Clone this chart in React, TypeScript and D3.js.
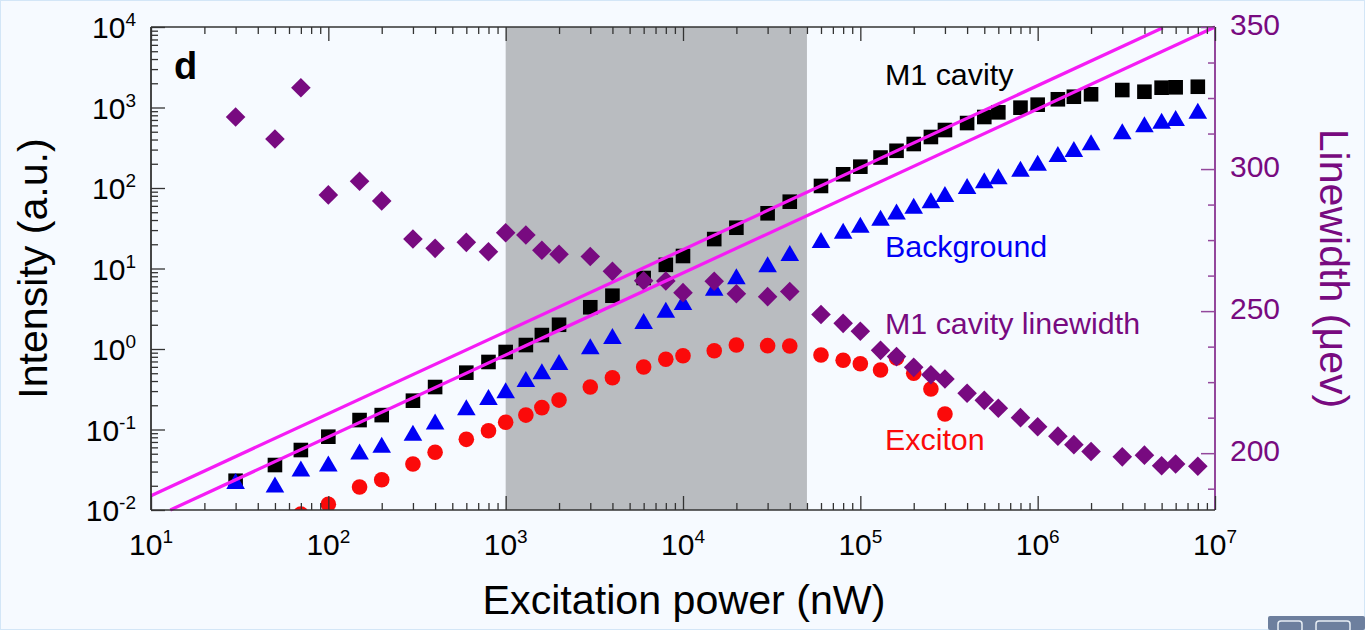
// App.tsx
// Log-log intensity vs excitation power, with linewidth on a second y axis
import { useEffect, useRef } from "react"
import * as d3 from "d3"

const power = [
  30, 50, 70, 100, 150, 200, 300, 400, 600, 800, 1000, 1300, 1600, 2000, 3000, 4000, 6000, 8000,
  10000, 15000, 20000, 30000, 40000, 60000, 80000, 1e5, 1.3e5, 1.6e5, 2e5, 2.5e5, 3e5, 4e5, 5e5,
  6e5, 8e5, 1e6, 1.3e6, 1.6e6, 2e6, 3e6, 4e6, 5e6, 6e6, 8e6,
]
const cavity = [
  0.0231, 0.0362, 0.0556, 0.0814, 0.131, 0.151, 0.228, 0.337, 0.508, 0.69, 0.918, 1.12, 1.49, 2.0,
  3.3, 4.59, 7.62, 11.1, 14.3, 23.2, 32.1, 48.5, 67.6, 106, 148, 184, 239, 290, 352, 430, 525, 641,
  762, 871, 995, 1084, 1265, 1361, 1459, 1648, 1570, 1762, 1782, 1811,
]
const background = [
  0.0229, 0.0207, 0.0328, 0.0378, 0.0533, 0.0647, 0.0912, 0.126, 0.189, 0.254, 0.307, 0.424, 0.528,
  0.69, 1.08, 1.45, 2.23, 3.08, 3.84, 5.78, 8.0, 11.3, 15.6, 22.6, 29.5, 35.0, 42.8, 51.1, 60.1,
  70.3, 84.1, 106, 125, 140, 174, 206, 264, 305, 370, 506, 618, 686, 741, 912,
]
// exciton starts at 70 nW and stops at 3e5
const excitonPower = power.slice(2, 31)
const exciton = [
  0.00891, 0.0118, 0.0193, 0.0238, 0.0372, 0.0521, 0.0755, 0.0966, 0.123, 0.151, 0.187, 0.232,
  0.337, 0.44, 0.597, 0.745, 0.826, 0.953, 1.12, 1.1, 1.09, 0.841, 0.724, 0.656, 0.548, 0.773,
  0.499, 0.318, 0.156,
]
const linewidth = [
  318.3, 310.6, 328.6, 290.9, 295.7, 288.8, 275.4, 272.1, 274.2, 270.9, 277.6, 276.8, 271.4, 270,
  269.2, 264, 260.7, 260.6, 256.5, 260.5, 256.1, 255.1, 256.9, 248.8, 245.7, 242.9, 236.2, 234,
  230.2, 227.6, 226.1, 221.1, 218.6, 215.8, 212.5, 209.3, 206, 203, 200.6, 198.7, 199.3, 195.6,
  196.2, 195.4,
]
// guide lines, slope about 1 on the log-log plot
const guideUpper: [number, number][] = [[10, 0.01506], [5.08e6, 9800]]
const guideLower: [number, number][] = [[12.85, 0.01], [1e7, 10000]]
const shadedBand = [1000, 50000]

const xExponents = [1, 2, 3, 4, 5, 6, 7]
const yExponents = [-2, -1, 0, 1, 2, 3, 4]
const rightTicks = [200, 250, 300, 350]
const rightMinorTicks = [187.5, 212.5, 225, 237.5, 262.5, 275, 287.5, 312.5, 325, 337.5]

const BLACK = "#000000"
const BLUE = "#0000f5"
const RED = "#fb0a0a"
const PURPLE = "#780a80"
const MAGENTA = "#f51cf5"
const AXIS = "#333333"
const AXIS_RIGHT = "#93479c"
const FONT = "'Liberation Sans', Arial, sans-serif"

const width = 1365
const height = 630
const margin = { top: 27, right: 150, bottom: 120, left: 151 }

const decadeMinors = (exps: number[]) =>
  exps.slice(0, -1).flatMap((e) => d3.range(2, 10).map((m) => m * 10 ** e))

export default function App() {
  const svgRef = useRef<SVGSVGElement>(null)

  useEffect(() => {
    if (!svgRef.current) return
    const svg = d3.select(svgRef.current)
    svg.selectAll("*").remove()

    const innerWidth = width - margin.left - margin.right
    const innerHeight = height - margin.top - margin.bottom

    const x = d3.scaleLog().domain([10, 1e7]).range([0, innerWidth])
    const y = d3.scaleLog().domain([0.01, 10000]).range([innerHeight, 0])
    const yRight = d3.scaleLinear().domain([180, 350]).range([innerHeight, 0])

    // page background and thin window border
    svg.append("rect").attr("width", width).attr("height", height).attr("fill", "#f6faff")
    svg.append("rect").attr("x", 0.5).attr("y", 0.5).attr("width", width - 1).attr("height", height - 1)
      .attr("fill", "none").attr("stroke", "#d3e6f7")

    const defs = svg.append("defs")
    defs.append("clipPath").attr("id", "plot-clip").append("rect")
      .attr("width", innerWidth).attr("height", innerHeight)

    const g = svg.append("g").attr("transform", `translate(${margin.left},${margin.top})`)

    // shaded excitation range
    g.append("rect")
      .attr("x", x(shadedBand[0]))
      .attr("width", x(shadedBand[1]) - x(shadedBand[0]))
      .attr("height", innerHeight)
      .attr("fill", "#b9bcc0")

    const marks = g.append("g").attr("clip-path", "url(#plot-clip)")

    // black squares
    marks.selectAll(".cavity").data(cavity).join("rect").attr("class", "cavity")
      .attr("x", (_, i) => x(power[i]) - 7.3)
      .attr("y", (d) => y(d) - 7.3)
      .attr("width", 14.6).attr("height", 14.6)
      .attr("fill", BLACK)

    // red circles
    marks.selectAll(".exciton").data(exciton).join("circle").attr("class", "exciton")
      .attr("cx", (_, i) => x(excitonPower[i]))
      .attr("cy", (d) => y(d))
      .attr("r", 7.8)
      .attr("fill", RED)

    // blue triangles
    const triangle = "M0,-8 L9.3,8 L-9.3,8 Z"
    marks.selectAll(".background").data(background).join("path").attr("class", "background")
      .attr("transform", (d, i) => `translate(${x(power[i])},${y(d)})`)
      .attr("d", triangle)
      .attr("fill", BLUE)

    // purple diamonds use the right axis
    const diamond = "M0,-9.8 L9.8,0 L0,9.8 L-9.8,0 Z"
    marks.selectAll(".linewidth").data(linewidth).join("path").attr("class", "linewidth")
      .attr("transform", (d, i) => `translate(${x(power[i])},${yRight(d)})`)
      .attr("d", diamond)
      .attr("fill", PURPLE)

    const guide = d3.line<[number, number]>().x((d) => x(d[0])).y((d) => y(d[1]))
    ;[guideUpper, guideLower].forEach((pts) => {
      g.append("path").attr("d", guide(pts)).attr("fill", "none")
        .attr("stroke", MAGENTA).attr("stroke-width", 3.2)
    })

    // frame lines
    const frame = (x1: number, y1: number, x2: number, y2: number, color: string, w: number) =>
      g.append("line").attr("x1", x1).attr("y1", y1).attr("x2", x2).attr("y2", y2)
        .attr("stroke", color).attr("stroke-width", w)
    frame(innerWidth, 0, innerWidth, innerHeight, AXIS_RIGHT, 2)
    frame(0, 0, innerWidth, 0, AXIS, 1.6)
    frame(0, innerHeight, innerWidth, innerHeight, AXIS, 1.6)
    frame(0, 0, 0, innerHeight, AXIS, 1.8)

    // axes: inward ticks, labels added by hand because of the superscripts
    const drawAxis = (axis: d3.Axis<any>, transform: string, color: string, lineWidth: number) => {
      const a = g.append("g").attr("transform", transform).call(axis)
      a.selectAll("text").remove()
      a.select(".domain").remove()
      a.selectAll("line").attr("stroke", color).attr("stroke-width", lineWidth)
    }
    const xMajor = xExponents.map((e) => 10 ** e)
    const yMajor = yExponents.map((e) => 10 ** e)
    const xMinor = decadeMinors(xExponents)
    const yMinor = decadeMinors(yExponents)
    const bottomY = `translate(0,${innerHeight})`
    const rightX = `translate(${innerWidth},0)`

    drawAxis(d3.axisRight(yRight).tickValues(rightTicks).tickSizeOuter(0).tickSizeInner(-14), rightX, AXIS_RIGHT, 1.5)
    drawAxis(d3.axisRight(yRight).tickValues(rightMinorTicks).tickSizeOuter(0).tickSizeInner(-7), rightX, AXIS_RIGHT, 1.5)
    drawAxis(d3.axisBottom(x).tickValues(xMajor).tickSizeOuter(0).tickSizeInner(-14), bottomY, AXIS, 1.3)
    drawAxis(d3.axisBottom(x).tickValues(xMinor).tickSizeOuter(0).tickSizeInner(-7), bottomY, AXIS, 1.3)
    drawAxis(d3.axisTop(x).tickValues(xMajor).tickSizeOuter(0).tickSizeInner(-14), "translate(0,0)", AXIS, 1.3)
    drawAxis(d3.axisTop(x).tickValues(xMinor).tickSizeOuter(0).tickSizeInner(-7), "translate(0,0)", AXIS, 1.3)
    drawAxis(d3.axisLeft(y).tickValues(yMajor).tickSizeOuter(0).tickSizeInner(-14), "translate(0,0)", AXIS, 1.3)
    drawAxis(d3.axisLeft(y).tickValues(yMinor).tickSizeOuter(0).tickSizeInner(-7), "translate(0,0)", AXIS, 1.3)

    // text
    const text = (px: number, py: number, s: string, size: number, color: string, anchor = "start") =>
      svg.append("text").attr("x", px).attr("y", py).attr("font-family", FONT)
        .attr("font-size", size).attr("fill", color).attr("text-anchor", anchor).text(s)

    const power10 = (right: number, py: number, e: number) => {
      const t = svg.append("text").attr("x", right).attr("y", py).attr("font-family", FONT)
        .attr("font-size", 30).attr("fill", "#000").attr("text-anchor", "end")
      t.append("tspan").text("10")
      t.append("tspan").attr("font-size", 19).attr("dy", -12).text(String(e))
    }
    xExponents.forEach((e) => power10(margin.left + x(10 ** e) + 22, 555, e))
    yExponents.forEach((e) => power10(136, margin.top + y(10 ** e) + 11, e))

    rightTicks.forEach((v) => text(1230, margin.top + yRight(v) + 8, String(v), 30, PURPLE))

    text(174, 79, "d", 38, "#000").attr("font-weight", "bold")
    text(885, 85, "M1 cavity", 30.4, "#000")
    text(885, 257, "Background", 30.4, BLUE)
    text(885, 334, "M1 cavity linewidth", 30.4, PURPLE)
    text(885, 450, "Exciton", 30.4, RED)

    text(684, 614, "Excitation power (nW)", 41.2, "#000", "middle")
    text(0, 0, "Intensity (a.u.)", 41.1, "#000", "middle")
      .attr("transform", "translate(47,268.5) rotate(-90)")
    text(0, 0, "Linewidth (μev)", 41.1, PURPLE, "middle")
      .attr("transform", "translate(1320,268.5) rotate(90)")

    // bit of viewer toolbar caught in the bottom corner
    svg.append("rect").attr("x", 1268).attr("y", 616).attr("width", 97).attr("height", 14).attr("rx", 2).attr("fill", "#6d7f9e")
    svg.append("rect").attr("x", 1278).attr("y", 621).attr("width", 24).attr("height", 11).attr("rx", 3).attr("fill", "none").attr("stroke", "#e8eef5").attr("stroke-width", 1.5)
    svg.append("rect").attr("x", 1316).attr("y", 621).attr("width", 34).attr("height", 11).attr("rx", 3).attr("fill", "none").attr("stroke", "#e8eef5").attr("stroke-width", 1.5)
  }, [])

  return (
    <svg
      ref={svgRef}
      width={width}
      height={height}
      style={{ position: "absolute", left: 0, top: 0, display: "block" }}
    />
  )
}
